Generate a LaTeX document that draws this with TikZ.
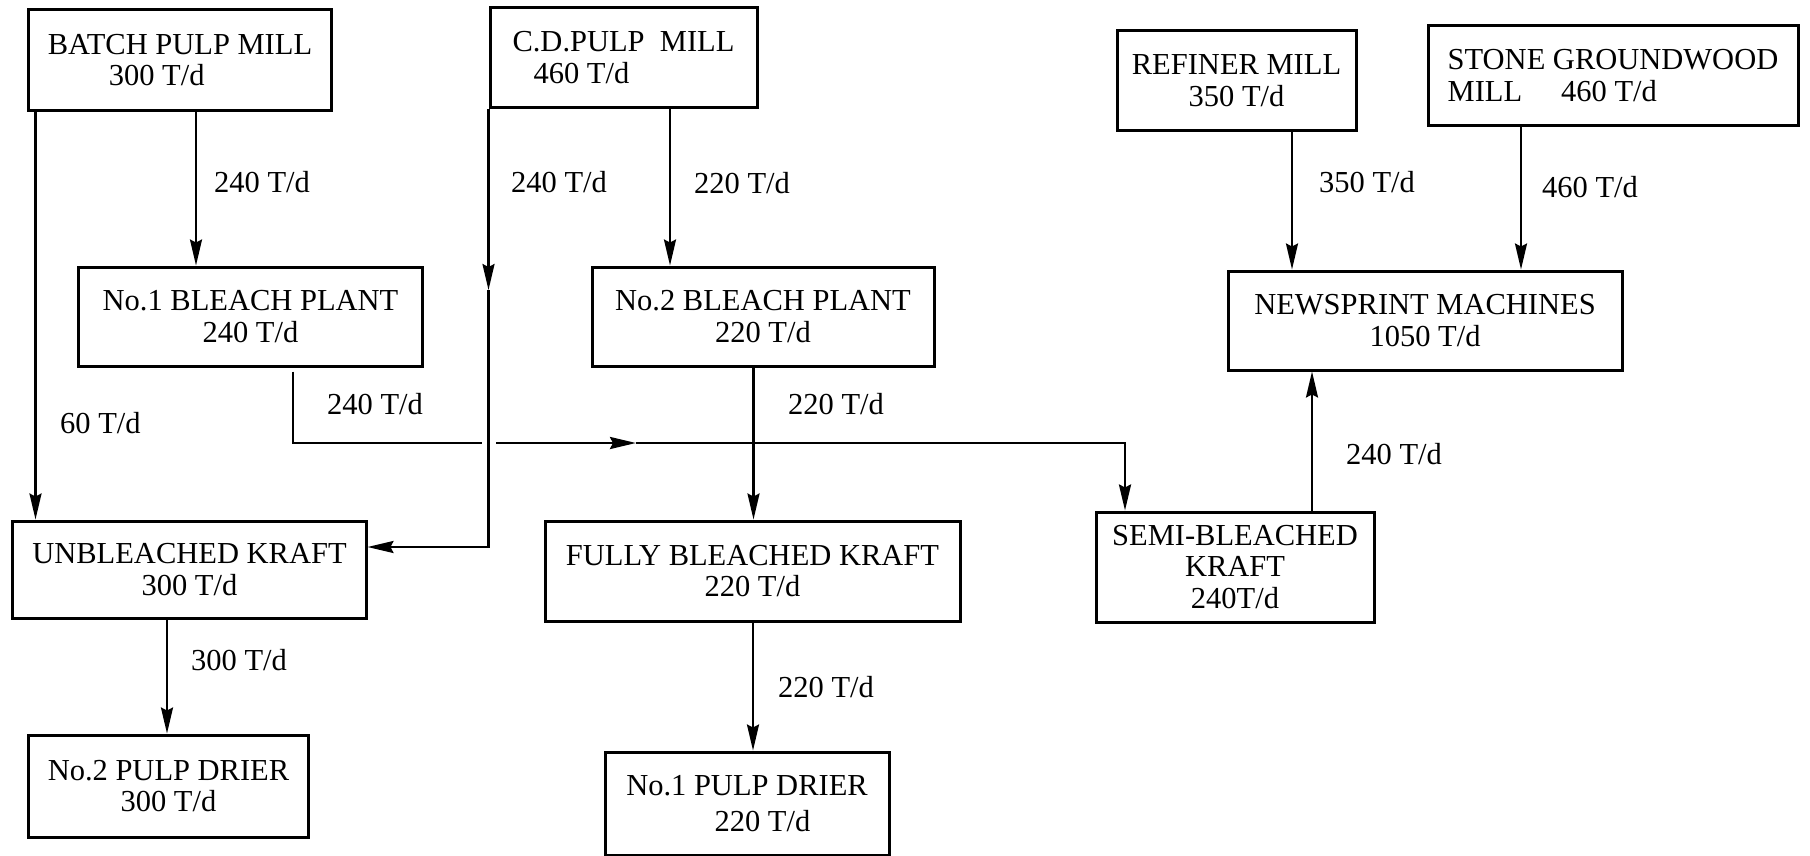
\documentclass[tikz,border=0pt]{standalone}
\usepackage{fontspec}
\setmainfont{Liberation Serif}
\usetikzlibrary{arrows.meta,calc}
\newcommand\boxfont{\fontsize{30.5bp}{31.5bp}\selectfont}
\begin{document}
\begin{tikzpicture}[x=1bp,y=-1bp,
  box/.style={draw, line width=3bp, inner sep=0pt, align=center, font=\boxfont},
  lbl/.style={anchor=west, inner sep=0pt, font=\boxfont},
  conn/.style={line width=2.2bp},
  conn2/.style={line width=2.8bp},
  tip/.style={-{Stealth[length=26bp,width=12bp,inset=3bp]}},
  arr/.style={conn, tip},
  arr2/.style={conn2, tip},
]
\useasboundingbox (0,0) rectangle (1810,856);

% boxes
\node[box, align=left, minimum width=302bp, minimum height=100bp] (batch) at (180,60) {BATCH PULP MILL\\\hspace*{61bp}300 T/d};
\node[box, align=left, minimum width=267bp, minimum height=99bp] (cd) at (623.5,57.5) {C.D.PULP\ \ MILL\\\hspace*{21bp}460 T/d};
\node[box, minimum width=239bp, minimum height=99bp] (refiner) at (1236.5,80.5) {REFINER MILL\\350 T/d};
\node[box, align=left, minimum width=370bp, minimum height=99bp] (stone) at (1613,75.5) {STONE GROUNDWOOD\\MILL\hspace{39bp}460 T/d};
\node[box, minimum width=343bp, minimum height=99bp] (bleach1) at (250.5,316.5) {No.1 BLEACH PLANT\\240 T/d};
\node[box, minimum width=342bp, minimum height=99bp] (bleach2) at (763,316.5) {No.2 BLEACH PLANT\\220 T/d};
\node[box, minimum width=394bp, minimum height=99bp] (news) at (1425,320.5) {NEWSPRINT MACHINES\\1050 T/d};
\node[box, minimum width=353bp, minimum height=97bp] (unbl) at (189.5,569.5) {UNBLEACHED KRAFT\\300 T/d};
\node[box, minimum width=415bp, minimum height=100bp] (fully) at (752.5,571) {FULLY BLEACHED KRAFT\\220 T/d};
\node[box, minimum width=278bp, minimum height=110bp] (semi) at (1235,567) {SEMI-BLEACHED\\KRAFT\\240T/d};
\node[box, minimum width=279bp, minimum height=102bp] (drier2) at (168.5,786) {No.2 PULP DRIER\\300 T/d};
\node[box, minimum width=284bp, minimum height=103bp] (drier1) at (747,803.5) {No.1 PULP DRIER\\[5bp]\hspace*{31bp}220 T/d};

% helper coordinates
\coordinate (cdmid) at (490,290);
\coordinate (cdturn) at (490,547);
\coordinate (gapL) at (482,443);
\coordinate (gapR) at (496,443);
\coordinate (midtip) at (636,443);

% connectors
\draw[arr] ([xshift=8bp]batch.south west) -- ([xshift=8bp]batch.south west |- unbl.north);
\draw[arr] ([xshift=16bp]batch.south) -- ([xshift=16bp]batch.south |- bleach1.north);
\draw[arr] (cd.south west) -- (cd.south west |- cdmid);
\draw[arr] (cd.south west |- cdmid) |- (unbl.east |- cdturn);
\draw[arr] ([xshift=46.5bp]cd.south) -- ([xshift=46.5bp]cd.south |- bleach2.north);
\draw[conn2] ([xshift=42.5bp,yshift=-4bp]bleach1.south) |- (gapL);
\draw[arr2] (gapR) -- (midtip);
\draw[arr2] (midtip) -| ([xshift=-110bp]semi.north);
\draw[arr] ([xshift=-9.5bp]bleach2.south) -- ([xshift=-9.5bp]bleach2.south |- fully.north);
\draw[arr] ([xshift=0.5bp]fully.south) -- ([xshift=0.5bp]fully.south |- drier1.north);
\draw[arr] ([xshift=-22.5bp]unbl.south) -- ([xshift=-22.5bp]unbl.south |- drier2.north);
\draw[arr] ([xshift=55.5bp]refiner.south) -- ([xshift=55.5bp]refiner.south |- news.north);
\draw[arr] ([xshift=-92bp]stone.south) -- ([xshift=-92bp]stone.south |- news.north);
\draw[arr] ([xshift=77bp]semi.north) -- ([xshift=77bp]semi.north |- news.south);

% flow labels
\node[lbl] (l60) at (60,423) {60 T/d};
\node[lbl] (l240a) at (214,182) {240 T/d};
\node[lbl] (l240b) at (511,182) {240 T/d};
\node[lbl] (l220a) at (694,183) {220 T/d};
\node[lbl] (l240c) at (327,404) {240 T/d};
\node[lbl] (l220b) at (788,404) {220 T/d};
\node[lbl] (l220c) at (778,687) {220 T/d};
\node[lbl] (l300) at (191,660) {300 T/d};
\node[lbl] (l350) at (1319,182) {350 T/d};
\node[lbl] (l460) at (1542,187) {460 T/d};
\node[lbl] (l240d) at (1346,454) {240 T/d};
\end{tikzpicture}
\end{document}
